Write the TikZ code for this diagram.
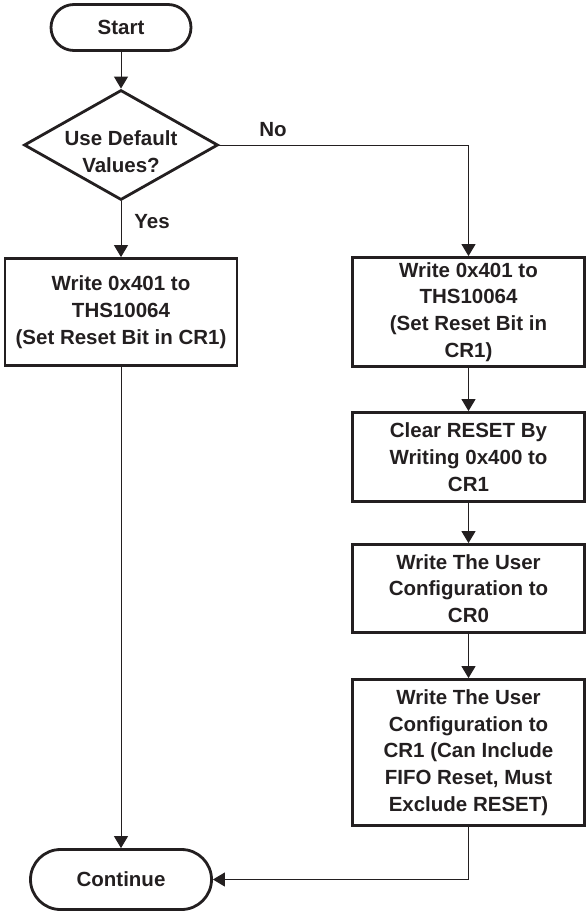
\documentclass[tikz,border=0pt]{standalone}
\usepackage{fontspec}
\setmainfont{Liberation Sans}
\usetikzlibrary{shapes.geometric,arrows.meta}
\definecolor{ink}{HTML}{231F20}

\begin{document}
\begin{tikzpicture}[x=1bp,y=-1bp]
\tikzset{txt/.style={font=\fontsize{20.5bp}{26.7bp}\selectfont\bfseries,text=ink,align=center},
  term/.style={txt,draw=ink,line width=2.8bp,rounded corners=#1,inner sep=0pt},
  box/.style={txt,draw=ink,line width=2.8bp,minimum width=232bp,inner sep=0pt},
  dec/.style={diamond,draw=ink,line width=2.8bp,minimum width=194bp,minimum height=110bp,inner sep=0pt},
  flow/.style={draw=ink,line width=1bp,-{Triangle[width=14bp,length=12bp]}}}
\useasboundingbox (0,0) rectangle (587,912);

\path (121,27.5) node[term=23bp,minimum width=140bp,minimum height=46bp] (start) {Start};
\path (121,145) node[dec,label={[txt,yshift=-7bp]center:Use Default\\Values?}] (dec) {};
\path (121,312) node[box,minimum height=107bp] (lbox) {Write 0x401 to\\THS10064\\(Set Reset Bit in CR1)};
\path (468.5,312) node[box,minimum height=109bp] (rbox1) {Write 0x401 to\\THS10064\\(Set Reset Bit in\\CR1)};
\path (468.5,457) node[box,minimum height=89bp] (rbox2) {Clear RESET By\\Writing 0x400 to\\CR1};
\path (468.5,588.5) node[box,minimum height=88bp] (rbox3) {Write The User\\Configuration to\\CR0};
\path (468.5,752.5) node[box,minimum height=146bp] (rbox4) {Write The User\\Configuration to\\CR1 (Can Include\\FIFO Reset, Must\\Exclude RESET)};
\path (121,879.5) node[term=30bp,minimum width=181bp,minimum height=60bp] (cont) {Continue};
\path (273,130) node[txt] (no) {No};
\path (152,222) node[txt] (yes) {Yes};

\draw[flow] (start) -- (dec);
\draw[flow] (dec) -- (lbox);
\draw[flow] (dec.east) -| (rbox1);
\draw[flow] (rbox1) -- (rbox2);
\draw[flow] (rbox2) -- (rbox3);
\draw[flow] (rbox3) -- (rbox4);
\draw[flow] (lbox) -- (cont);
\draw[flow] (rbox4.south) |- (cont.east);
\end{tikzpicture}
\end{document}
